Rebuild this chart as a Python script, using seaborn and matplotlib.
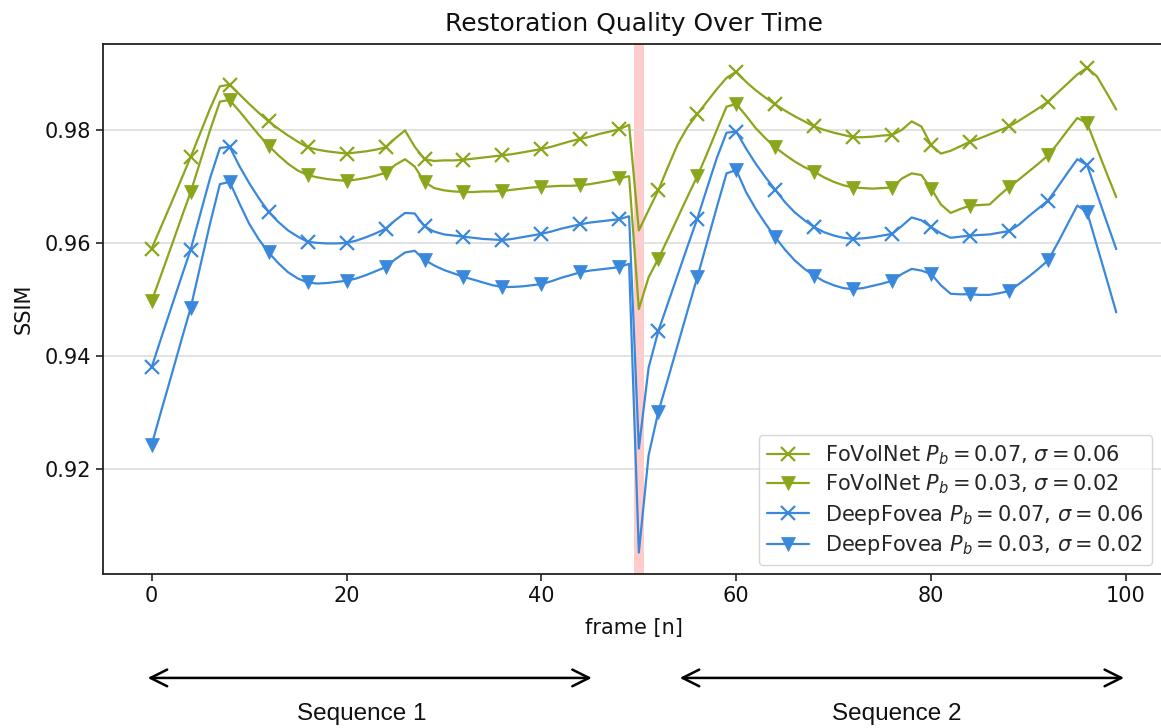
import numpy as np
import pandas as pd
import matplotlib
matplotlib.use("Agg")
import matplotlib.pyplot as plt
import seaborn as sns

frames = list(range(100))

fovol_p07 = [
    0.9590, 0.9630, 0.9670, 0.9711, 0.9752, 0.9795, 0.9838, 0.9877, 0.9880, 0.9863,
    0.9846, 0.9830, 0.9815, 0.9802, 0.9790, 0.9779, 0.9769, 0.9765, 0.9762, 0.9760,
    0.9758, 0.9760, 0.9762, 0.9765, 0.9769, 0.9785, 0.9799, 0.9770, 0.9748, 0.9745,
    0.9746, 0.9746, 0.9747, 0.9749, 0.9751, 0.9753, 0.9755, 0.9757, 0.9760, 0.9763,
    0.9766, 0.9770, 0.9775, 0.9780, 0.9784, 0.9788, 0.9793, 0.9797, 0.9801, 0.9809,
    0.9622, 0.9658, 0.9693, 0.9735, 0.9775, 0.9805, 0.9828, 0.9850, 0.9872, 0.9892,
    0.9903, 0.9885, 0.9870, 0.9857, 0.9845, 0.9834, 0.9824, 0.9815, 0.9806, 0.9800,
    0.9795, 0.9791, 0.9787, 0.9787, 0.9788, 0.9790, 0.9791, 0.9800, 0.9815, 0.9806,
    0.9773, 0.9758, 0.9763, 0.9771, 0.9779, 0.9785, 0.9792, 0.9799, 0.9806, 0.9816,
    0.9827, 0.9838, 0.9850, 0.9866, 0.9882, 0.9898, 0.9910, 0.9895, 0.9866, 0.9836,
]

fovol_p03 = [
    0.9497, 0.9545, 0.9593, 0.9642, 0.9690, 0.9745, 0.9800, 0.9850, 0.9853, 0.9833,
    0.9812, 0.9791, 0.9772, 0.9755, 0.9740, 0.9728, 0.9720, 0.9716, 0.9713, 0.9711,
    0.9710, 0.9712, 0.9715, 0.9719, 0.9724, 0.9738, 0.9748, 0.9735, 0.9708, 0.9697,
    0.9693, 0.9691, 0.9690, 0.9690, 0.9691, 0.9691, 0.9692, 0.9694, 0.9696, 0.9698,
    0.9699, 0.9700, 0.9701, 0.9701, 0.9702, 0.9704, 0.9707, 0.9710, 0.9714, 0.9718,
    0.9483, 0.9539, 0.9572, 0.9608, 0.9645, 0.9682, 0.9718, 0.9758, 0.9800, 0.9841,
    0.9846, 0.9825, 0.9803, 0.9785, 0.9769, 0.9756, 0.9744, 0.9734, 0.9726, 0.9716,
    0.9708, 0.9702, 0.9698, 0.9697, 0.9696, 0.9697, 0.9698, 0.9714, 0.9723, 0.9720,
    0.9696, 0.9668, 0.9653, 0.9660, 0.9666, 0.9667, 0.9668, 0.9684, 0.9699, 0.9712,
    0.9726, 0.9740, 0.9755, 0.9776, 0.9799, 0.9821, 0.9812, 0.9768, 0.9724, 0.9681,
]

deep_p07 = [
    0.9380, 0.9433, 0.9485, 0.9537, 0.9588, 0.9652, 0.9715, 0.9768, 0.9770, 0.9736,
    0.9706, 0.9679, 0.9655, 0.9637, 0.9622, 0.9611, 0.9602, 0.9600, 0.9599, 0.9599,
    0.9600, 0.9604, 0.9610, 0.9617, 0.9625, 0.9640, 0.9653, 0.9652, 0.9629, 0.9620,
    0.9615, 0.9613, 0.9611, 0.9609, 0.9607, 0.9606, 0.9605, 0.9607, 0.9610, 0.9613,
    0.9616, 0.9620, 0.9625, 0.9629, 0.9633, 0.9636, 0.9638, 0.9640, 0.9642, 0.9647,
    0.9236, 0.9379, 0.9444, 0.9494, 0.9544, 0.9594, 0.9643, 0.9697, 0.9750, 0.9795,
    0.9797, 0.9767, 0.9740, 0.9716, 0.9694, 0.9672, 0.9654, 0.9640, 0.9628, 0.9619,
    0.9613, 0.9609, 0.9607, 0.9608, 0.9610, 0.9613, 0.9616, 0.9630, 0.9645, 0.9640,
    0.9628, 0.9617, 0.9609, 0.9611, 0.9613, 0.9614, 0.9615, 0.9618, 0.9621, 0.9632,
    0.9647, 0.9661, 0.9675, 0.9699, 0.9724, 0.9748, 0.9738, 0.9688, 0.9638, 0.9589,
]

deep_p03 = [
    0.9243, 0.9304, 0.9364, 0.9425, 0.9485, 0.9560, 0.9635, 0.9704, 0.9708, 0.9670,
    0.9634, 0.9606, 0.9583, 0.9564, 0.9548, 0.9537, 0.9530, 0.9528, 0.9529, 0.9531,
    0.9533, 0.9537, 0.9543, 0.9550, 0.9557, 0.9571, 0.9583, 0.9586, 0.9570, 0.9560,
    0.9552, 0.9546, 0.9540, 0.9535, 0.9530, 0.9525, 0.9522, 0.9522, 0.9523, 0.9525,
    0.9527, 0.9532, 0.9538, 0.9543, 0.9548, 0.9551, 0.9553, 0.9555, 0.9557, 0.9563,
    0.9052, 0.9224, 0.9301, 0.9360, 0.9420, 0.9480, 0.9539, 0.9601, 0.9663, 0.9723,
    0.9729, 0.9690, 0.9660, 0.9634, 0.9610, 0.9588, 0.9569, 0.9554, 0.9542, 0.9532,
    0.9525, 0.9520, 0.9518, 0.9520, 0.9524, 0.9528, 0.9533, 0.9545, 0.9554, 0.9551,
    0.9545, 0.9525, 0.9510, 0.9509, 0.9509, 0.9508, 0.9508, 0.9511, 0.9515, 0.9527,
    0.9540, 0.9554, 0.9569, 0.9600, 0.9633, 0.9666, 0.9655, 0.9596, 0.9537, 0.9477,
]

labels = [
    r"FoVolNet $P_b = 0.07$, $\sigma = 0.06$",
    r"FoVolNet $P_b = 0.03$, $\sigma = 0.02$",
    r"DeepFovea $P_b = 0.07$, $\sigma = 0.06$",
    r"DeepFovea $P_b = 0.03$, $\sigma = 0.02$",
]
series = [fovol_p07, fovol_p03, deep_p07, deep_p03]
colors = ["#8aa61c", "#8aa61c", "#3a88dc", "#3a88dc"]
markers = ["x", "v", "x", "v"]

sns.set_theme(style="ticks")
plt.rcParams["font.family"] = ["DejaVu Sans"]
plt.rcParams["mathtext.fontset"] = "dejavusans"

fig = plt.figure(figsize=(11.61, 7.28), dpi=100)
ax = fig.add_axes([0.0887, 0.2115, 0.9143, 0.7281])

ax.axvspan(49.5, 50.5, color="#ffcccc", zorder=0, lw=0)

for vals, lab, col, mk in zip(series, labels, colors, markers):
    df = pd.DataFrame({"frame": frames, "ssim": vals})
    if mk == "x":
        kw = dict(markersize=10, markeredgewidth=1.6, markerfacecolor=col)
    else:
        kw = dict(markersize=10, markeredgewidth=0.5, markerfacecolor=col)
    sns.lineplot(data=df, x="frame", y="ssim", ax=ax, color=col, marker=mk,
                 markevery=4, linewidth=1.6, label=lab, markeredgecolor=col, **kw)

ax.set_ylim(0.9014, 0.9952)
ax.set_xlim(-5.0, 103.95)
ax.set_xticks([0, 20, 40, 60, 80, 100])
ax.set_yticks([0.92, 0.94, 0.96, 0.98])
ax.yaxis.grid(True, color="#dddddd", linewidth=1.2)
ax.xaxis.grid(False)
ax.set_axisbelow(True)
for s in ax.spines.values():
    s.set_color("#222222")
    s.set_linewidth(1.3)
ax.tick_params(axis="both", labelsize=15, length=5, width=1.2, colors="#222222", labelcolor="#111111")
ax.set_xlabel("frame [n]", fontsize=15, color="#111111", labelpad=9)
ax.set_ylabel("SSIM", fontsize=15, color="#111111", labelpad=8)
ax.set_title("Restoration Quality Over Time", fontsize=18, color="#111111", pad=9)

leg = ax.legend(loc="lower right", fontsize=15, frameon=True, borderpad=0.4,
                handlelength=2.0, labelspacing=0.3, handletextpad=0.8,
                bbox_to_anchor=(0.998, -0.003))
leg.get_frame().set_edgecolor("#cccccc")

trans = ax.get_xaxis_transform()
arrow_kw = dict(arrowstyle="<->", lw=1.8, color="black", mutation_scale=30, shrinkA=0, shrinkB=0)
ax.annotate("", xy=(-0.41, -0.196), xytext=(45.17, -0.196), xycoords=trans, textcoords=trans,
            arrowprops=arrow_kw, annotation_clip=False)
ax.annotate("", xy=(54.2, -0.196), xytext=(99.8, -0.196), xycoords=trans, textcoords=trans,
            arrowprops=arrow_kw, annotation_clip=False)
ax.text(21.6, -0.265, "Sequence 1", transform=trans, ha="center", va="center",
        fontsize=17.5, color="#111111", family="Liberation Sans")
ax.text(76.5, -0.265, "Sequence 2", transform=trans, ha="center", va="center",
        fontsize=17.5, color="#111111", family="Liberation Sans")

fig.savefig("out.png", dpi=100)
